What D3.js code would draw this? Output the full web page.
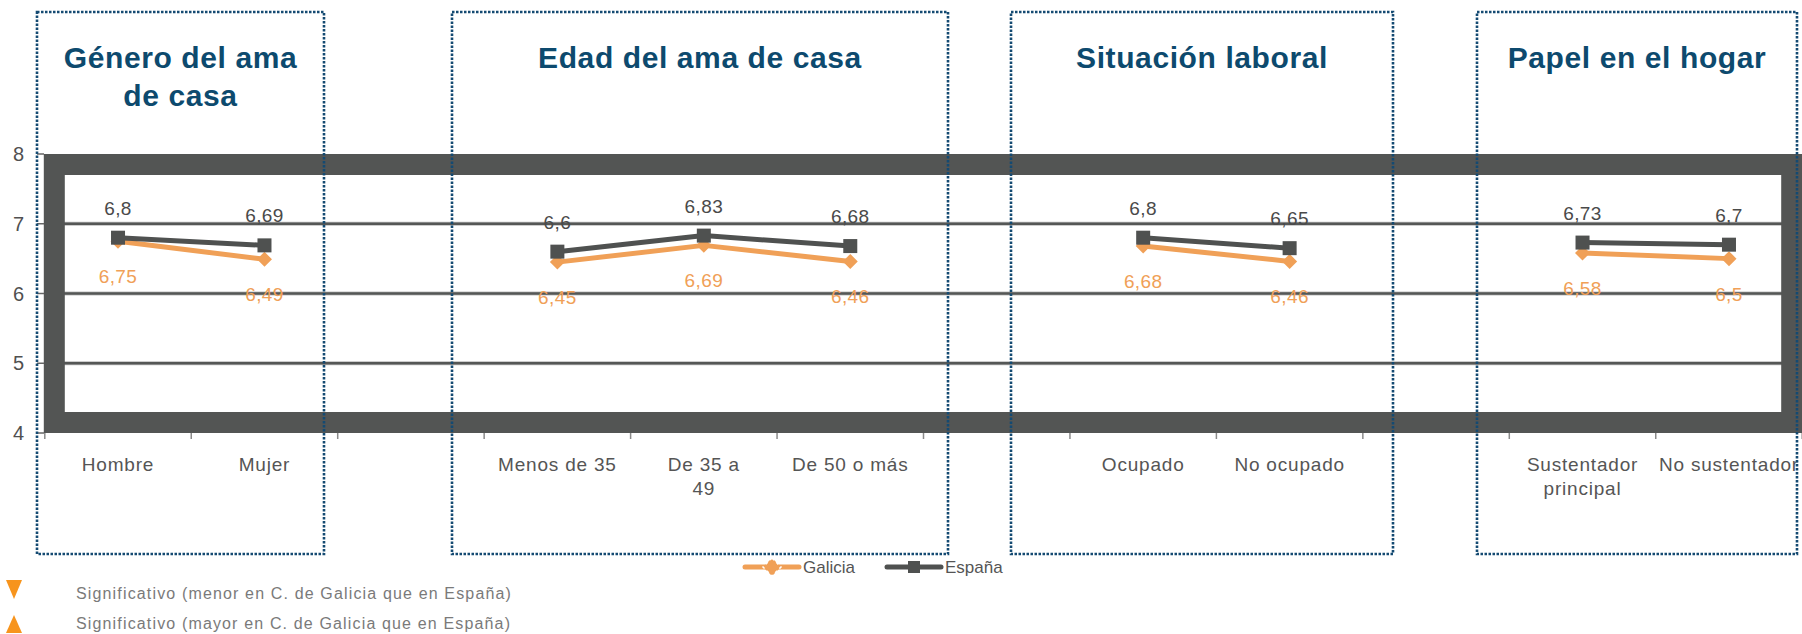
<!DOCTYPE html>
<html>
<head>
<meta charset="utf-8">
<script src="https://cdn.jsdelivr.net/npm/d3@7"></script>
<style>
    body { margin: 0; background: #fff; }
    svg { display: block; font-family: "Liberation Sans", Arial, sans-serif; }
</style>
</head>
<body>
<svg id="chart" width="1802" height="634"></svg>
<script>
// Data (blank categories separate the four groups)
const categories = ["Hombre", "Mujer", "", "Menos de 35", "De 35 a\n49", "De 50 o más", "", "Ocupado", "No ocupado", "", "Sustentador\nprincipal", "No sustentador"];
const galicia = [6.75, 6.49, null, 6.45, 6.69, 6.46, null, 6.68, 6.46, null, 6.58, 6.5];
const espana = [6.8, 6.69, null, 6.6, 6.83, 6.68, null, 6.8, 6.65, null, 6.73, 6.7];
const yTicks = [4, 5, 6, 7, 8];
const gridValues = [5, 6, 7];
const groupTitles = [["Género del ama", "de casa"], ["Edad del ama de casa"], ["Situación laboral"], ["Papel en el hogar"]];
const seriesNames = ["Galicia", "España"];
const footnotes = ["Significativo (menor en C. de Galicia  que en España)", "Significativo (mayor en C. de Galicia  que en España)"];

// Layout
const boxes = [[37, 324], [452, 948], [1011, 1393], [1477, 1797]];
const BOX_TOP = 12, BOX_BOTTOM = 554;
const ORANGE = "#f0a057", DARK = "#4f5150", FRAME = "#535554", BLUE = "#0d4a6e";

const svg = d3.select("#chart");

const x = d3.scaleBand()
    .domain(d3.range(categories.length))
    .range([44.8, 1802.2])
    .padding(0);
const bw = x.bandwidth();
const cx = i => x(i) + bw / 2;

const y = d3.scaleLinear().domain([4, 8]).range([433, 154]);

// gridlines
svg.append("g").selectAll("line")
    .data(gridValues)
    .join("line")
    .attr("x1", x.range()[0]).attr("x2", x.range()[1])
    .attr("y1", d => y(d)).attr("y2", d => y(d))
    .attr("stroke", "#bdbdbd").attr("stroke-width", 4);
svg.append("g").selectAll("line")
    .data(gridValues)
    .join("line")
    .attr("x1", x.range()[0]).attr("x2", x.range()[1])
    .attr("y1", d => y(d)).attr("y2", d => y(d))
    .attr("stroke", "#555756").attr("stroke-width", 2.4);

// thick plot frame
const fw = 21;
svg.append("rect")
    .attr("x", x.range()[0] - 1 + fw / 2)
    .attr("y", y(8) + fw / 2)
    .attr("width", x.range()[1] - x.range()[0] - fw + 1)
    .attr("height", y(4) - y(8) - fw)
    .attr("fill", "none")
    .attr("stroke", FRAME)
    .attr("stroke-width", fw);

// y axis
const yAxis = svg.append("g");
yAxis.selectAll("line")
    .data(yTicks)
    .join("line")
    .attr("x1", 37).attr("x2", 44)
    .attr("y1", d => y(d)).attr("y2", d => y(d))
    .attr("stroke", "#666").attr("stroke-width", 1.5);
yAxis.selectAll("text")
    .data(yTicks)
    .join("text")
    .attr("x", 24)
    .attr("y", d => y(d) + 7)
    .attr("text-anchor", "end")
    .attr("font-size", 20)
    .attr("fill", "#505050")
    .text(d => d);

// x axis ticks at band edges
svg.append("g").selectAll("line")
    .data(d3.range(categories.length + 1))
    .join("line")
    .attr("x1", i => x.range()[0] + i * bw).attr("x2", i => x.range()[0] + i * bw)
    .attr("y1", y(4)).attr("y2", y(4) + 6)
    .attr("stroke", "#8a8a8a").attr("stroke-width", 1.5);

// category labels
svg.append("g").selectAll("text")
    .data(categories.map((c, i) => ({ c, i })).filter(d => d.c))
    .join("text")
    .attr("text-anchor", "middle")
    .attr("font-size", 19)
    .attr("letter-spacing", 0.8)
    .attr("fill", "#555")
    .each(function (d) {
        d3.select(this).selectAll("tspan")
            .data(d.c.split("\n"))
            .join("tspan")
            .attr("x", cx(d.i))
            .attr("y", (t, k) => 471 + k * 24)
            .text(t => t);
    });

// series
const line = d3.line()
    .defined(d => d.v != null)
    .x(d => cx(d.i))
    .y(d => y(d.v));

const gal = galicia.map((v, i) => ({ v, i }));
const esp = espana.map((v, i) => ({ v, i }));

svg.append("path").datum(gal)
    .attr("d", line).attr("fill", "none")
    .attr("stroke", ORANGE).attr("stroke-width", 5).attr("stroke-linejoin", "round");
svg.append("g").selectAll("path")
    .data(gal.filter(d => d.v != null))
    .join("path")
    .attr("d", "M0,-7.5L7.5,0L0,7.5L-7.5,0Z")
    .attr("transform", d => `translate(${cx(d.i)},${y(d.v)})`)
    .attr("fill", ORANGE);

svg.append("path").datum(esp)
    .attr("d", line).attr("fill", "none")
    .attr("stroke", DARK).attr("stroke-width", 5).attr("stroke-linejoin", "round");
svg.append("g").selectAll("rect")
    .data(esp.filter(d => d.v != null))
    .join("rect")
    .attr("x", d => cx(d.i) - 7).attr("y", d => y(d.v) - 7)
    .attr("width", 14).attr("height", 14)
    .attr("fill", DARK);

// value labels
const fmt = v => String(v).replace(".", ",");
svg.append("g").selectAll("text")
    .data(esp.filter(d => d.v != null))
    .join("text")
    .attr("x", d => cx(d.i)).attr("y", d => y(d.v) - 23)
    .attr("text-anchor", "middle").attr("font-size", 19).attr("letter-spacing", 0.4)
    .attr("fill", "#4a4a4a")
    .text(d => fmt(d.v));
svg.append("g").selectAll("text")
    .data(gal.filter(d => d.v != null))
    .join("text")
    .attr("x", d => cx(d.i)).attr("y", d => y(d.v) + 42)
    .attr("text-anchor", "middle").attr("font-size", 19).attr("letter-spacing", 0.4)
    .attr("fill", ORANGE)
    .text(d => fmt(d.v));

// dotted group boxes and titles
const gBoxes = svg.append("g");
gBoxes.selectAll("rect")
    .data(boxes)
    .join("rect")
    .attr("x", d => d[0]).attr("y", BOX_TOP)
    .attr("width", d => d[1] - d[0]).attr("height", BOX_BOTTOM - BOX_TOP)
    .attr("fill", "none")
    .attr("stroke", "#144a72").attr("stroke-width", 2.6)
    .attr("stroke-dasharray", "2.5,1.5");
gBoxes.selectAll("text")
    .data(groupTitles)
    .join("text")
    .attr("text-anchor", "middle")
    .attr("font-size", 30).attr("font-weight", "bold")
    .attr("letter-spacing", 0.6)
    .attr("fill", BLUE)
    .each(function (d, i) {
        d3.select(this).selectAll("tspan")
            .data(d)
            .join("tspan")
            .attr("x", (boxes[i][0] + boxes[i][1]) / 2)
            .attr("y", (t, k) => 68 + k * 38)
            .text(t => t);
    });

// legend
const legend = svg.append("g").attr("font-size", 17).attr("fill", "#555");
const legX = [745, 887];
seriesNames.forEach((name, k) => {
    const lx = legX[k];
    const col = k === 0 ? ORANGE : DARK;
    legend.append("line")
        .attr("x1", lx).attr("x2", lx + 54).attr("y1", 567).attr("y2", 567)
        .attr("stroke", col).attr("stroke-width", 5).attr("stroke-linecap", "round");
    if (k === 0) {
        legend.append("path").attr("d", "M0,-9L9,0L0,9L-9,0Z")
            .attr("transform", `translate(${lx + 27},567)`)
            .attr("fill", col).attr("stroke", "#fff").attr("stroke-width", 1.5)
            .attr("stroke-dasharray", "3,3");
    } else {
        legend.append("rect").attr("x", lx + 21).attr("y", 561)
            .attr("width", 12).attr("height", 12).attr("fill", col);
    }
    legend.append("text").attr("x", lx + 58).attr("y", 573).text(name);
});

// significance notes
const notes = svg.append("g");
notes.append("path").attr("d", "M6,580L22,580L14,599Z").attr("fill", "#f7941d");
notes.append("path").attr("d", "M6,633L22,633L14,615Z").attr("fill", "#f7941d");
notes.selectAll("text")
    .data(footnotes)
    .join("text")
    .attr("x", 76).attr("y", (d, k) => 599 + k * 30)
    .attr("font-family", "'Liberation Sans Narrow', 'Liberation Sans', sans-serif")
    .attr("font-size", 16).attr("letter-spacing", 1.15)
    .attr("fill", "#7a7a7a")
    .text(d => d);
</script>
</body>
</html>
